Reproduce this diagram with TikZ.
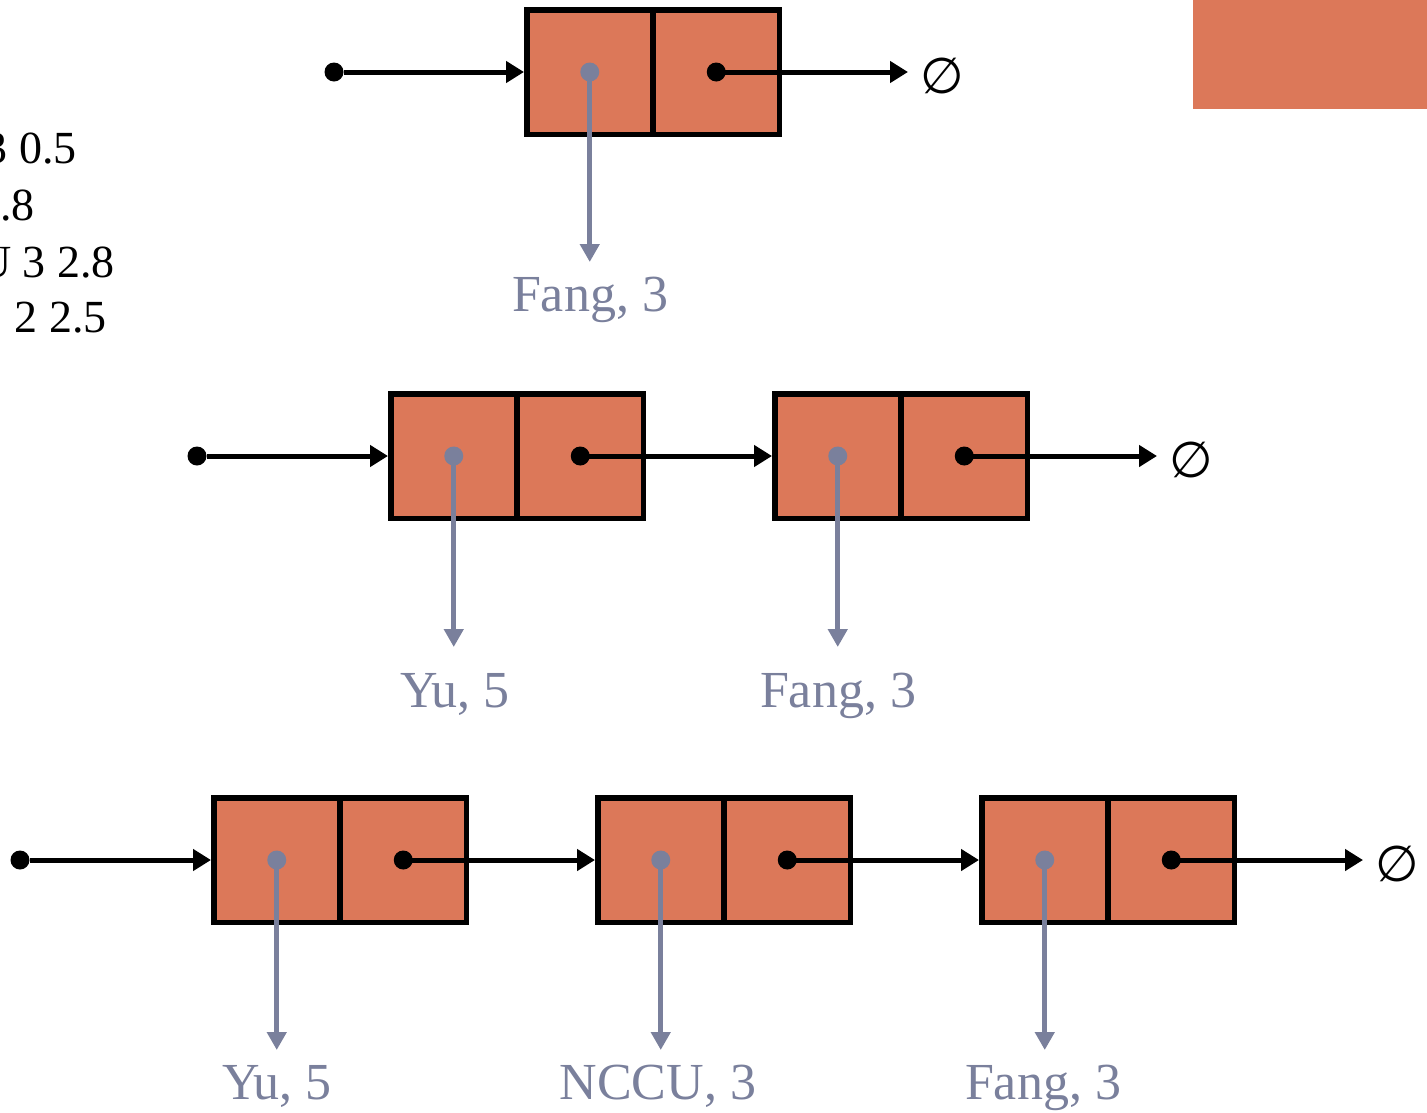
\documentclass[tikz,border=0pt]{standalone}
\usepackage{fontspec}
\setmainfont{Liberation Serif}
\newfontfamily\symfont{DejaVu Sans}
\usetikzlibrary{arrows.meta}

\definecolor{cellorange}{RGB}{220,120,89}
\definecolor{refgray}{RGB}{122,128,156}

\begin{document}
\begin{tikzpicture}[x = 1pt, y = -1pt,
	cell/.style = {draw, line width = 5.5pt, fill = cellorange, minimum width = 126pt, minimum height = 124.5pt, inner sep = 0},
	dot/.style = {circle, fill, inner sep = 0, minimum size = 19pt},
	nxt/.style = {line width = 5pt, -{Triangle[length = 18pt, width = 21pt]}},
	ref/.style = {line width = 5pt, refgray, -{Triangle[length = 18pt, width = 19pt]}},
	lbl/.style = {anchor = base, inner sep = 0, text = refgray, font = \fontsize{52}{60}\selectfont},
	nul/.style = {anchor = west, inner xsep = 12pt, inner ysep = 0, font = \symfont\fontsize{50}{60}\selectfont},
	txt/.style = {anchor = base east, inner sep = 0, font = \fontsize{46}{54}\selectfont}]
	
	\useasboundingbox (0, 0) rectangle (1427, 1112);
	\clip (0, 0) rectangle (1427, 1112);
	
	\fill[cellorange] (1193, 0) rectangle (1427, 109);
	
	% cut text on the left
	\node[txt] (txt1) at (77, 163) {3 0.5};
	\node[txt] (txt2) at (35, 220) {.8};
	\node[txt] (txt3) at (115, 277) {U 3 2.8};
	\node[txt] (txt4) at (107, 332) {2 2.5};
	
	% list with one element
	\node[cell] (a1d) at (589.75, 72) {};
	\node[cell] (a1p) at (716.25, 72) {};
	
	\node[dot] (ha) at (334, 72) {};
	\node[nul] (na) at (908, 76) {∅};
	\coordinate (a1e) at (589.75, 262);
	\node[lbl] (a1l) at (590, 311) {Fang, 3};
	
	\draw[nxt] (ha) to (a1d.west);
	\draw[nxt] (a1p.center) to (na.west |- a1p.center);
	\draw[ref] (a1d.center) to (a1e);
	\fill (a1p.center) circle (9.5);
	\fill[refgray] (a1d.center) circle (9.5);
	
	% list with two elements
	\node[cell] (b1d) at (453.75, 456) {};
	\node[cell] (b1p) at (580.25, 456) {};
	\node[cell] (b2d) at (837.75, 456) {};
	\node[cell] (b2p) at (964.25, 456) {};
	
	\node[dot] (hb) at (197, 456) {};
	\node[nul] (nb) at (1157, 460) {∅};
	\coordinate (b1e) at (453.75, 647);
	\coordinate (b2e) at (837.75, 647);
	\node[lbl] (b1l) at (455, 707) {Yu, 5};
	\node[lbl] (b2l) at (838, 707) {Fang, 3};
	
	\draw[nxt] (hb) to (b1d.west);
	\draw[nxt] (b1p.center) to (b2d.west);
	\draw[nxt] (b2p.center) to (nb.west |- b2p.center);
	\draw[ref] (b1d.center) to (b1e);
	\draw[ref] (b2d.center) to (b2e);
	\fill (b1p.center) circle (9.5);
	\fill (b2p.center) circle (9.5);
	\fill[refgray] (b1d.center) circle (9.5);
	\fill[refgray] (b2d.center) circle (9.5);
	
	% list with three elements
	\node[cell] (c1d) at (276.75, 860) {};
	\node[cell] (c1p) at (403.25, 860) {};
	\node[cell] (c2d) at (660.75, 860) {};
	\node[cell] (c2p) at (787.25, 860) {};
	\node[cell] (c3d) at (1044.75, 860) {};
	\node[cell] (c3p) at (1171.25, 860) {};
	
	\node[dot] (hc) at (20, 860) {};
	\node[nul] (nc) at (1363, 864) {∅};
	\coordinate (c1e) at (276.75, 1050);
	\coordinate (c2e) at (660.75, 1050);
	\coordinate (c3e) at (1044.75, 1050);
	\node[lbl] (c1l) at (277, 1099) {Yu, 5};
	\node[lbl] (c2l) at (658, 1099) {NCCU, 3};
	\node[lbl] (c3l) at (1043, 1099) {Fang, 3};
	
	\draw[nxt] (hc) to (c1d.west);
	\draw[nxt] (c1p.center) to (c2d.west);
	\draw[nxt] (c2p.center) to (c3d.west);
	\draw[nxt] (c3p.center) to (nc.west |- c3p.center);
	\draw[ref] (c1d.center) to (c1e);
	\draw[ref] (c2d.center) to (c2e);
	\draw[ref] (c3d.center) to (c3e);
	\fill (c1p.center) circle (9.5);
	\fill (c2p.center) circle (9.5);
	\fill (c3p.center) circle (9.5);
	\fill[refgray] (c1d.center) circle (9.5);
	\fill[refgray] (c2d.center) circle (9.5);
	\fill[refgray] (c3d.center) circle (9.5);
%	
%	\node[anchor = west] at (0, 0) {};
\end{tikzpicture}
\end{document}
